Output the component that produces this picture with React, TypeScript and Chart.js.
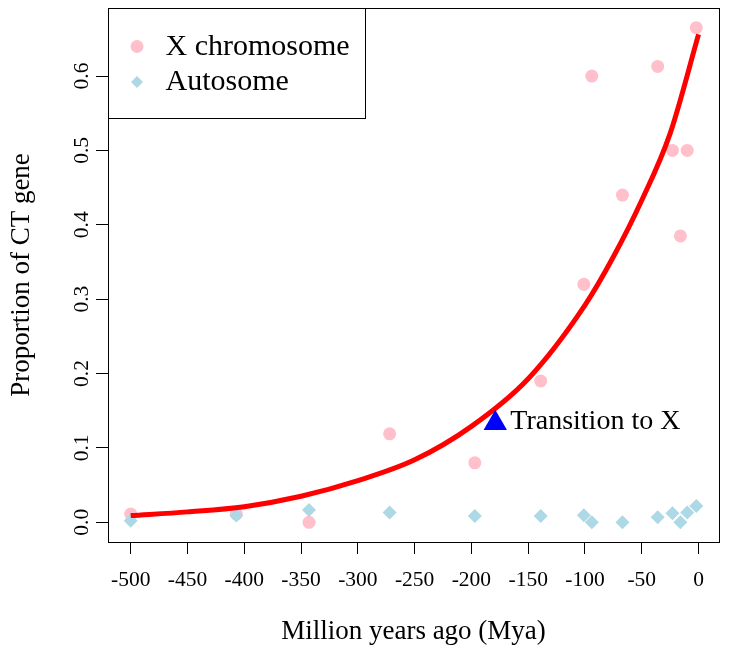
import React, { useEffect, useRef } from 'react';
import { Chart, registerables } from 'chart.js';

Chart.register(...registerables);

// ---- data ----
const mya = [-500, -407, -343, -272, -197, -139, -101, -94, -67, -36, -23, -16, -10, -2];
const xChromosome = [0.011, 0.011, 0.0, 0.119, 0.08, 0.19, 0.32, 0.6, 0.44, 0.613, 0.5, 0.385, 0.5, 0.665];
const autosome = [0.002, 0.009, 0.0165, 0.013, 0.0085, 0.0085, 0.0094, 0.0, 0.0, 0.0067, 0.012, 0.0, 0.013, 0.022];

const fitX = [-500, -450, -400, -350, -300, -250, -200, -150, -100, -75, -50, -25, 0];
const fitY = [0.009, 0.014, 0.021, 0.035, 0.056, 0.084, 0.129, 0.193, 0.292, 0.357, 0.433, 0.523, 0.656];

const transitionX = [-179];
const transitionY = [0.133];
const transitionLabel = 'Transition to X';

const xTicks = [-500, -450, -400, -350, -300, -250, -200, -150, -100, -50, 0];
const yTicks = [0, 0.1, 0.2, 0.3, 0.4, 0.5, 0.6];
const xLimits = [-520, 18];
const yLimits = [-0.0265, 0.6915];

const legendLabels = ['X chromosome', 'Autosome'];
const xTitle = 'Million years ago (Mya)';
const yTitle = 'Proportion of CT gene';

const SERIF = '"Liberation Serif", "Times New Roman", serif';

export default function App() {
  const ref = useRef<HTMLCanvasElement>(null);

  useEffect(() => {
    document.body.style.margin = '0';
    const canvas = ref.current!;

    const boxPlugin = {
      id: 'rBox',
      afterDatasetsDraw(chart: any) {
        const { ctx, chartArea: a, scales } = chart;
        // plot frame
        ctx.save();
        ctx.strokeStyle = '#000';
        ctx.lineWidth = 1;
        ctx.strokeRect(Math.round(a.left) + 0.5, Math.round(a.top) + 0.5, Math.round(a.right - a.left), Math.round(a.bottom - a.top));

        // transition label
        const px = scales.x.getPixelForValue(transitionX[0]);
        const py = scales.y.getPixelForValue(transitionY[0]);
        ctx.fillStyle = '#000';
        ctx.font = `28px ${SERIF}`;
        ctx.textAlign = 'left';
        ctx.textBaseline = 'middle';
        ctx.fillText(transitionLabel, px + 15, py - 2);

        // legend
        const lx = Math.round(a.left) + 0.5;
        const ly = Math.round(a.top) + 0.5;
        const lw = 257;
        const lh = 110;
        ctx.fillStyle = '#fff';
        ctx.fillRect(lx, ly, lw, lh);
        ctx.strokeStyle = '#000';
        ctx.strokeRect(lx, ly, lw, lh);

        const ds = chart.data.datasets;
        // circle
        ctx.fillStyle = ds[3].backgroundColor;
        ctx.beginPath();
        ctx.arc(lx + 28.5, ly + 38, 6.5, 0, Math.PI * 2);
        ctx.fill();
        // diamond
        ctx.fillStyle = ds[2].backgroundColor;
        const dx = lx + 28.5, dy = ly + 73.5, r = 6;
        ctx.beginPath();
        ctx.moveTo(dx - r, dy);
        ctx.lineTo(dx, dy - r);
        ctx.lineTo(dx + r, dy);
        ctx.lineTo(dx, dy + r);
        ctx.closePath();
        ctx.fill();

        ctx.fillStyle = '#000';
        ctx.font = `30px ${SERIF}`;
        ctx.textAlign = 'left';
        ctx.textBaseline = 'middle';
        ctx.fillText(legendLabels[0], lx + 57, ly + 39);
        ctx.fillText(legendLabels[1], lx + 57, ly + 74);
        ctx.restore();
      },
    };

    const chart = new Chart(canvas, {
      type: 'scatter',
      data: {
        datasets: [
          {
            label: 'Transition',
            data: transitionX.map((x, i) => ({ x, y: transitionY[i] })),
            pointStyle: 'triangle',
            pointRadius: 13.5,
            backgroundColor: 'blue',
            borderWidth: 0,
          },
          {
            label: 'Fit',
            data: fitX.map((x, i) => ({ x, y: fitY[i] })),
            showLine: true,
            pointRadius: 0,
            borderColor: 'red',
            borderWidth: 5,
            cubicInterpolationMode: 'monotone',
            fill: false,
          },
          {
            label: legendLabels[1],
            data: mya.map((x, i) => ({ x, y: autosome[i] })),
            pointStyle: 'rectRot',
            pointRadius: 7,
            backgroundColor: 'lightblue',
            borderWidth: 0,
          },
          {
            label: legendLabels[0],
            data: mya.map((x, i) => ({ x, y: xChromosome[i] })),
            pointStyle: 'circle',
            pointRadius: 6.5,
            backgroundColor: 'pink',
            borderWidth: 0,
          },
        ],
      },
      options: {
        responsive: false,
        animation: false,
        events: [],
        layout: { autoPadding: false, padding: { left: 0, right: 10, top: 8, bottom: 0 } },
        plugins: { legend: { display: false }, tooltip: { enabled: false } },
        scales: {
          x: {
            type: 'linear',
            min: xLimits[0],
            max: xLimits[1],
            afterBuildTicks: (s: any) => {
              s.ticks = xTicks.map((v) => ({ value: v }));
            },
            afterFit: (s: any) => {
              s.height = 113;
              s.paddingLeft = 0;
              s.paddingRight = 0;
            },
            grid: { drawOnChartArea: false, drawTicks: true, tickLength: 12, color: '#000', lineWidth: 1 },
            border: { display: false },
            ticks: {
              font: { family: SERIF, size: 21.5 },
              color: '#000',
              maxRotation: 0,
              minRotation: 0,
              autoSkip: false,
              padding: 13,
              callback: (v: any) => String(v),
            },
            title: {
              display: true,
              text: xTitle,
              font: { family: SERIF, size: 27 },
              color: '#000',
              padding: { top: 0, bottom: 7 },
            },
          },
          y: {
            type: 'linear',
            min: yLimits[0],
            max: yLimits[1],
            afterBuildTicks: (s: any) => {
              s.ticks = yTicks.map((v) => ({ value: v }));
            },
            afterFit: (s: any) => {
              s.width = 108;
              s.paddingTop = 0;
              s.paddingBottom = 0;
            },
            grid: { drawOnChartArea: false, drawTicks: true, tickLength: 12, color: '#000', lineWidth: 1 },
            border: { display: false },
            ticks: {
              font: { family: SERIF, size: 21.5 },
              color: '#000',
              minRotation: 90,
              maxRotation: 90,
              crossAlign: 'center',
              padding: 0,
              callback: (v: any) => Number(v).toFixed(1),
            },
            title: {
              display: true,
              text: yTitle,
              font: { family: SERIF, size: 27 },
              color: '#000',
              padding: { top: 6, bottom: 0 },
            },
          },
        },
      },
      plugins: [boxPlugin],
    } as any);

    return () => chart.destroy();
  }, []);

  return (
    <div style={{ width: 729, height: 655 }}>
      <canvas ref={ref} width={729} height={655} style={{ display: 'block' }} />
    </div>
  );
}
